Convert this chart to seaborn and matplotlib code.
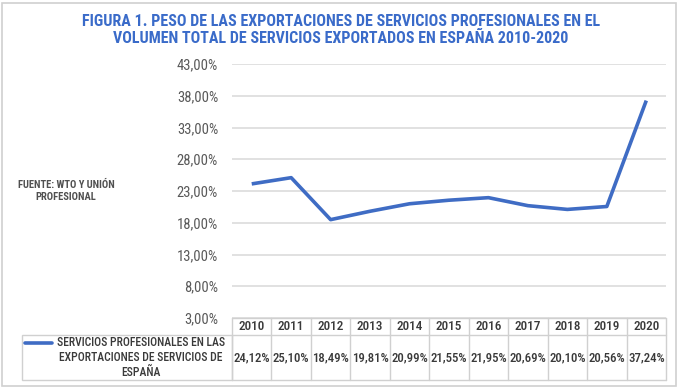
import matplotlib
matplotlib.use("Agg")
import matplotlib.pyplot as plt
import matplotlib.font_manager as fm
from matplotlib.patches import Rectangle
from matplotlib.lines import Line2D
import seaborn as sns
import pandas as pd

years = ["2010", "2011", "2012", "2013", "2014", "2015", "2016", "2017", "2018", "2019", "2020"]
values = [24.12, 25.10, 18.49, 19.81, 20.99, 21.55, 21.95, 20.69, 20.10, 20.56, 37.24]
value_labels = ["24,12%", "25,10%", "18,49%", "19,81%", "20,99%", "21,55%", "21,95%",
                "20,69%", "20,10%", "20,56%", "37,24%"]
y_ticks = [3, 8, 13, 18, 23, 28, 33, 38, 43]
y_tick_labels = ["3,00%", "8,00%", "13,00%", "18,00%", "23,00%", "28,00%", "33,00%", "38,00%", "43,00%"]
series_name = "SERVICIOS PROFESIONALES EN LAS\nEXPORTACIONES DE SERVICIOS DE\nESPAÑA"
title = "FIGURA 1. PESO DE LAS EXPORTACIONES DE SERVICIOS PROFESIONALES EN EL\nVOLUMEN TOTAL DE SERVICIOS EXPORTADOS EN ESPAÑA 2010-2020"
source = "FUENTE: WTO Y UNIÓN\nPROFESIONAL"

sns.set_theme(style="white")
entries = fm.fontManager.ttflist
fam = "Liberation Sans"
for cand in ["Liberation Sans Narrow", "Roboto Condensed", "Archivo Narrow", "Barlow Condensed",
             "Asap Condensed"]:
    ws = [f.weight for f in entries if f.name == cand and "wght" not in f.fname]
    if ws and any(w in (700, "bold") for w in ws):
        fam = cand
        break
plt.rcParams["font.family"] = [fam, "DejaVu Sans"]

W, H = 681, 387
fig = plt.figure(figsize=(W / 100, H / 100), dpi=100)
fig.patch.set_facecolor("white")

# frame
fig.add_artist(Rectangle((2 / W, 1 / H), (676 - 2) / W, (384 - 1) / H, transform=fig.transFigure,
                         fill=False, edgecolor="#d0d0d0", lw=1.2))

L, R, T, B = 232, 666, 64, 318
ax = fig.add_axes([L / W, 1 - B / H, (R - L) / W, (B - T) / H])

df = pd.DataFrame({"x": range(len(years)), "v": values})
blue = "#3F6CC4"
sns.lineplot(data=df, x="x", y="v", ax=ax, color=blue, lw=2.6, solid_capstyle="butt")

ax.set_xlim(-0.5, len(years) - 0.5)
ax.set_ylim(3, 43)
ax.set_yticks(y_ticks)
ax.set_yticklabels(y_tick_labels)
ax.set_xticks([])
ax.set_xlabel("")
ax.set_ylabel("")
for s in ax.spines.values():
    s.set_visible(False)
ax.grid(axis="y", color="#d9d9d9", lw=1.1)
ax.tick_params(axis="y", length=0, pad=10, labelsize=10.5, labelcolor="#595959")

# data table
gray = "#d0d0d0"
txtc = "#3a3a3a"
ah = B - T
hdr = -(335 - B) / ah
bot = -(380 - B) / ah
tr = ax.get_xaxis_transform()
n = len(years)
ax.add_line(Line2D([-0.5, n - 0.5], [0, 0], transform=tr, color=gray, lw=1, clip_on=False))
ax.add_line(Line2D([-0.5, n - 0.5], [hdr, hdr], transform=tr, color=gray, lw=1, clip_on=False))
ax.add_line(Line2D([-0.5, n - 0.5], [bot, bot], transform=tr, color=gray, lw=1, clip_on=False))
for i in range(n + 1):
    ax.add_line(Line2D([i - 0.5, i - 0.5], [0, bot], transform=tr, color=gray, lw=1, clip_on=False))
for i, (yr, lab) in enumerate(zip(years, value_labels)):
    ax.text(i, hdr / 2, yr, transform=tr, ha="center", va="center", fontsize=9.5,
            color=txtc, fontweight="medium")
    ax.text(i, (hdr + bot) / 2, lab, transform=tr, ha="center", va="center", fontsize=9.3,
            color=txtc, fontweight="medium")

# row label cell
fig.add_artist(Rectangle((22 / W, 1 - 380 / H), (L - 22) / W, (380 - 335) / H,
                         transform=fig.transFigure, fill=False, edgecolor=gray, lw=1))
fig.add_artist(Line2D([25 / W, 52 / W], [1 - 343 / H, 1 - 343 / H], transform=fig.transFigure,
                      color=blue, lw=2.6))
fig.text(141 / W, 1 - 357.5 / H, series_name, ha="center", va="center", fontsize=8.4,
         color=txtc, fontweight="medium", linespacing=1.2)

fig.text(341 / W, 1 - 30 / H, title, ha="center", va="center", fontsize=11.5,
         color="#3A6BC9", fontweight="bold", linespacing=1.15)
fig.text(66 / W, 1 - 191 / H, source, ha="center", va="center", fontsize=7.6,
         color="#505050", fontweight="bold", linespacing=1.25)

fig.savefig("out.png", dpi=100, facecolor="white")
